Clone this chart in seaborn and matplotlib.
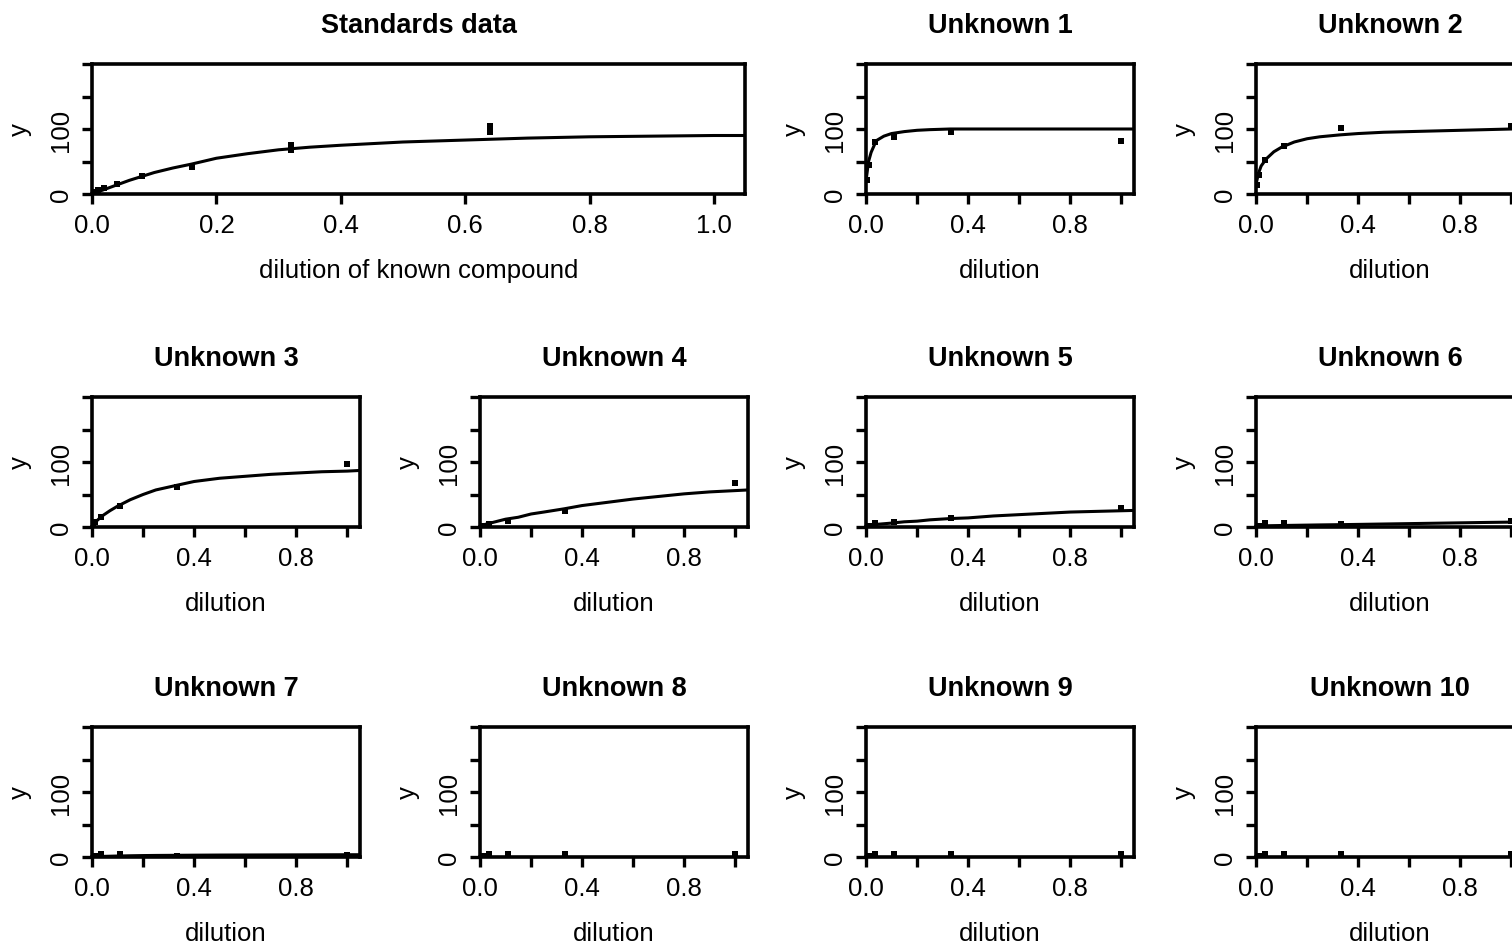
import numpy as np
import pandas as pd
import matplotlib
matplotlib.use("Agg")
import matplotlib.pyplot as plt
import seaborn as sns
from matplotlib import font_manager

# Standards panel: fitted curve and measured points
std_curve_x = [0, 0.02, 0.04, 0.06, 0.08, 0.1, 0.13, 0.16, 0.2, 0.25, 0.3, 0.35,
               0.4, 0.5, 0.6, 0.7, 0.8, 0.9, 1.0, 1.05]
std_curve_y = [0, 7, 14, 21, 27, 33, 40, 46, 55, 62, 68, 72,
               75, 80, 83, 86, 88, 89, 90, 90]
std_pts_x = [0.005, 0.01, 0.02, 0.04, 0.08, 0.16, 0.32, 0.32, 0.64, 0.64]
std_pts_y = [3, 6, 9, 16, 28, 42, 67, 76, 95, 104]

# Unknowns: shared curve grid and dilution series
unk_curve_x = [0, 0.01, 0.02, 0.04, 0.07, 0.1, 0.15, 0.2, 0.25, 0.33, 0.4,
               0.5, 0.6, 0.7, 0.8, 0.9, 1.0, 1.05]
unk_dil = [0.0041, 0.0123, 0.037, 0.111, 0.333, 1.0]

u1_curve = [20, 50, 64, 82, 89, 93, 96, 98, 99, 100, 100, 100, 100, 100, 100, 100, 100, 100]
u2_curve = [15, 32, 43, 54, 65, 72, 80, 85, 88, 91, 93, 95, 96, 97, 98, 99, 100, 100]
u3_curve = [3, 6, 10, 17, 25, 32, 42, 50, 57, 64, 70, 75, 78, 81, 83, 85, 86, 87]
u4_curve = [2, 3, 4, 6, 9, 12, 15, 20, 23, 28, 33, 38, 43, 47, 51, 54, 56, 57]
u5_curve = [2, 2.5, 3, 4, 5, 6, 8, 9, 11, 13, 14, 17, 19, 21, 23, 24, 25, 25.5]
u6_curve = [1.5, 1.6, 1.7, 1.9, 2.1, 2.3, 2.6, 2.9, 3.2, 3.6, 4, 4.6, 5.2, 5.8, 6.4, 7, 7.5, 7.8]
u7_curve = [0.5, 0.6, 0.7, 0.9, 1.2, 1.5, 1.9, 2.2, 2.4, 2.6, 2.8, 3.0, 3.1, 3.2, 3.3, 3.4, 3.5, 3.5]
u8_curve = [0.3] * 18
u9_curve = [0.3] * 18
u10_curve = [0.3] * 18

u1_pts = [22, 45, 80, 87, 95, 81]
u2_pts = [14, 30, 52, 74, 101, 105]
u3_pts = [3, 7, 15, 33, 62, 97]
u4_pts = [1, 2, 4, 10, 24, 67]
u5_pts = [1, 2, 6, 8, 14, 29]
u6_pts = [1, 2, 6, 6, 5, 9]
u7_pts = [1, 1, 5, 5, 2, 3]
u8_pts = [1, 1, 4, 4, 4, 4]
u9_pts = [1, 1, 4, 4, 4, 4]
u10_pts = [1, 1, 4, 4, 4, 4]

unk_curves = [u1_curve, u2_curve, u3_curve, u4_curve, u5_curve,
              u6_curve, u7_curve, u8_curve, u9_curve, u10_curve]
unk_points = [u1_pts, u2_pts, u3_pts, u4_pts, u5_pts,
              u6_pts, u7_pts, u8_pts, u9_pts, u10_pts]

sns.set_theme(style="white")
installed = {f.name for f in font_manager.fontManager.ttflist}
fam = "Liberation Sans Narrow" if "Liberation Sans Narrow" in installed else "Liberation Sans"
plt.rcParams["font.family"] = [fam, "DejaVu Sans"]

W, H = 1512, 945
fig = plt.figure(figsize=(W / 100, H / 100), dpi=100)
fig.patch.set_facecolor("white")


def px_axes(left, top, width, height):
    return fig.add_axes([left / W, 1 - (top + height) / H, width / W, height / H])


def style(ax, title, xlabel, xticklabels_every):
    ax.set_xlim(0, 1.05)
    ax.set_ylim(0, 200)
    ax.set_facecolor("white")
    for s in ax.spines.values():
        s.set_visible(True)
        s.set_color("black")
        s.set_linewidth(2.6)
    xt = [0, 0.2, 0.4, 0.6, 0.8, 1.0]
    ax.set_xticks(xt)
    ax.set_xticklabels([f"{v:.1f}" if i % xticklabels_every == 0 else ""
                        for i, v in enumerate(xt)])
    ax.set_yticks([0, 50, 100, 150, 200])
    ax.set_yticklabels(["0", "", "100", "", ""], rotation=90, va="center")
    ax.tick_params(axis="both", direction="out", length=7, width=2.4,
                   color="black", labelsize=18.5, labelcolor="black",
                   bottom=True, left=True)
    ax.tick_params(axis="x", pad=7)
    ax.tick_params(axis="y", pad=7)
    ax.set_xlabel(xlabel, fontsize=18.5, labelpad=15, color="black")
    ax.set_ylabel("y", fontsize=18.5, labelpad=12, color="black")
    ax.set_title(title, fontsize=19.5, fontweight="bold", pad=23, color="black")
    ax.grid(False)


def draw(ax, cx, cy, px, py):
    sns.lineplot(x=cx, y=cy, ax=ax, color="black", linewidth=2.2,
                 estimator=None, sort=False)
    sns.scatterplot(x=px, y=py, ax=ax, color="black", marker="s", s=24,
                    linewidth=0, zorder=3)


col_left = [92, 480, 866, 1256]
row_top = [65, 398, 728]
pw, ph = 268, 130

# Standards spans the first two columns
ax = px_axes(92, 65, 653, ph)
draw(ax, std_curve_x, std_curve_y, std_pts_x, std_pts_y)
style(ax, "Standards data", "dilution of known compound", 1)

slots = [(0, 2), (0, 3), (1, 0), (1, 1), (1, 2), (1, 3),
         (2, 0), (2, 1), (2, 2), (2, 3)]
for i, (r, c) in enumerate(slots):
    ax = px_axes(col_left[c], row_top[r], pw, ph)
    draw(ax, unk_curve_x, unk_curves[i], unk_dil, unk_points[i])
    style(ax, f"Unknown {i + 1}", "dilution", 2)

fig.savefig("out.png", dpi=100, facecolor="white")
